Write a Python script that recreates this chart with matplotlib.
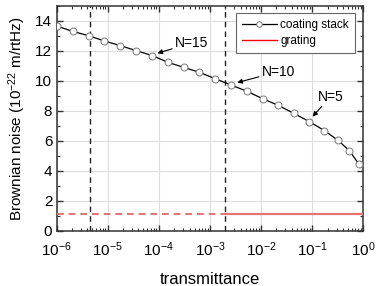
import matplotlib
matplotlib.use('Agg')
import matplotlib.pyplot as plt
from matplotlib.lines import Line2D
from matplotlib.ticker import LogLocator, MultipleLocator

plt.rcParams['font.family'] = ['Liberation Sans', 'DejaVu Sans']
plt.rcParams['mathtext.fontset'] = 'custom'
plt.rcParams['mathtext.rm'] = 'Liberation Sans'
plt.rcParams['mathtext.it'] = 'Liberation Sans:italic'
plt.rcParams['mathtext.bf'] = 'Liberation Sans:bold'

# coating stack, N = 21 ... 1 layer pairs
transmittance = [1.0e-6, 2.06e-6, 4.23e-6, 8.55e-6, 1.76e-5, 3.61e-5, 7.5e-5,
                 1.51e-4, 3.05e-4, 6.18e-4, 1.27e-3, 2.58e-3, 5.30e-3, 1.07e-2,
                 2.14e-2, 4.35e-2, 8.77e-2, 0.173, 0.320, 0.533, 0.813]
brownian = [13.67, 13.31, 13.02, 12.67, 12.36, 12.02, 11.69, 11.24, 10.91, 10.58,
            10.15, 9.73, 9.31, 8.82, 8.38, 7.84, 7.29, 6.69, 6.04, 5.35, 4.47]

grating_level = 1.15
vlines_t = [4.5e-6, 2.0e-3]

# annotations: label, text position, arrow tip
notes = [('N=15', (2.07e-4, 12.53), (9.4e-5, 11.85)),
         ('N=10', (1.03e-2, 10.62), (3.42e-3, 9.89)),
         ('N=5', (0.128, 8.95), (0.102, 7.62))]

fig = plt.figure(figsize=(3.82, 2.86), dpi=100)
ax = fig.add_axes([0.148, 0.193, 0.803, 0.786])

ax.plot(transmittance, brownian, color='black', lw=0.9, marker='o', ms=5,
        mfc='white', mec='#777777', mew=0.7, zorder=4)

red = '#e57373'
ax.plot([1e-6, vlines_t[1]], [grating_level, grating_level], color=red, lw=1.4,
        ls=(0, (3.5, 2.5)), zorder=3)
ax.plot([vlines_t[1], 1.0], [grating_level, grating_level], color=red, lw=1.6, zorder=3)

for t in vlines_t:
    ax.axvline(t, color='#222222', lw=1.0, ls=(0, (4, 3)), zorder=3)

for label, txt, tip in notes:
    ax.annotate(label, xy=tip, xytext=txt, ha='left', va='center', fontsize=10,
                arrowprops=dict(arrowstyle='-|>', color='black', lw=0.8,
                                mutation_scale=7, shrinkA=0, shrinkB=0))

ax.set_xscale('log')
ax.set_xlim(1e-6, 1.0)
ax.set_ylim(0, 15)
ax.yaxis.set_major_locator(MultipleLocator(2))
ax.yaxis.set_minor_locator(MultipleLocator(1))
ax.xaxis.set_major_locator(LogLocator(base=10, numticks=10))
ax.xaxis.set_minor_locator(LogLocator(base=10, subs=range(2, 10), numticks=20))

ax.grid(True, which='major', color='#dddddd', lw=0.8, zorder=0)
ax.set_axisbelow(True)
ax.tick_params(which='both', direction='in', top=True, right=True, labelsize=11,
               color='#333333')
ax.tick_params(which='major', length=4, width=1)
ax.tick_params(which='minor', length=2, width=0.8)
ax.tick_params(axis='x', pad=7)
ax.tick_params(axis='y', pad=3)
for s in ax.spines.values():
    s.set_color('#333333')
    s.set_linewidth(1.1)

ax.set_xlabel('transmittance', fontsize=12, labelpad=9)
ax.set_ylabel('Brownian noise (10$^{-22}$ m/rtHz)', fontsize=11, labelpad=5)

handles = [Line2D([], [], color='black', lw=0.9, marker='o', ms=4, mfc='white', mec='#777777', mew=0.7),
           Line2D([], [], color='red', lw=1.0)]
leg = ax.legend(handles, ['coating stack', 'grating'], loc='upper right',
                bbox_to_anchor=(0.973, 0.969), fontsize=8.5, frameon=True,
                fancybox=False, edgecolor='#666666', framealpha=1,
                handlelength=3.0, handletextpad=0.3, labelspacing=0.35,
                borderpad=0.5, borderaxespad=0)
leg.get_frame().set_linewidth(0.8)

fig.savefig('out.png', dpi=100)
